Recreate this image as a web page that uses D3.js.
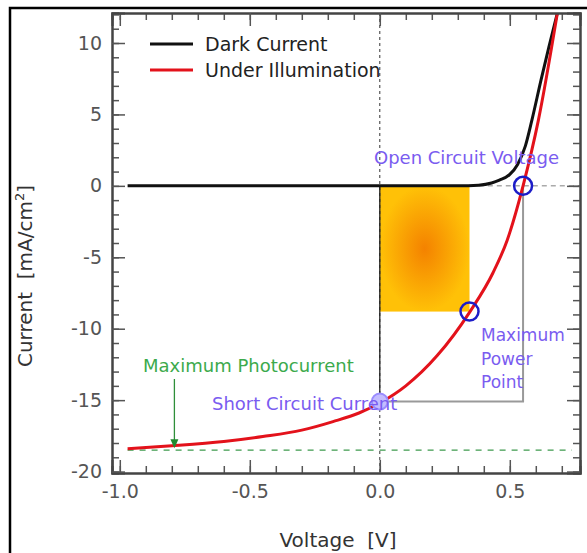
<!DOCTYPE html>
<html>
<head>
<meta charset="utf-8">
<script src="https://cdn.jsdelivr.net/npm/d3@7"></script>
<style>
	body { margin: 0; background: #fff; }
	text { font-family: "DejaVu Sans", Verdana, sans-serif; }
</style>
</head>
<body>
<svg></svg>
<script>
// voltage [V] / current [mA/cm2]
const darkV = [-0.97, 0.30, 0.38, 0.43, 0.46, 0.50, 0.53, 0.56, 0.585, 0.62, 0.65, 0.683];
const darkI = [0, 0, 0.05, 0.2, 0.4, 0.8, 1.5, 2.8, 4.6, 7.4, 9.7, 12.1];

const lightV = [-0.97, -0.8, -0.6, -0.45, -0.3, -0.18, -0.08, 0, 0.1, 0.22, 0.347, 0.435, 0.49, 0.551, 0.61, 0.683];
const lightI = [-18.4, -18.2, -17.9, -17.55, -17.1, -16.5, -15.9, -15.2, -14.0, -11.9, -8.8, -6.1, -3.8, 0, 4.6, 12.1];

const xMajor = [-1.0, -0.5, 0.0, 0.5];
const yMajor = [-20, -15, -10, -5, 0, 5, 10];

const voc = 0.551;
const isc = -15.1;
const vmp = 0.345;
const imp = -8.8;
const maxPhoto = -18.5;
const arrowV = -0.79;

const legendLabels = ["Dark Current", "Under Illumination"];
const legendColors = ["#111", "#e3121b"];

const W = 587, H = 553;
const margin = { top: 13, right: 7, bottom: 80, left: 112 };

function draw() {
	let svg = d3.select("svg")
		.attr("width", W)
		.attr("height", H);

	let x = d3.scaleLinear().domain([-1.03, 0.77]).range([margin.left, W - margin.right]);
	let y = d3.scaleLinear().domain([-20.1, 12.1]).range([H - margin.bottom, margin.top]);

	// outer frame
	svg.append("path")
		.attr("d", `M10,${H}V8H${W}`)
		.attr("fill", "none").attr("stroke", "#000").attr("stroke-width", 2.5);

	let defs = svg.append("defs");
	let grad = defs.append("radialGradient").attr("id", "pw");
	grad.append("stop").attr("offset", "0%").attr("stop-color", "#f48200");
	grad.append("stop").attr("offset", "100%").attr("stop-color", "#ffc107");
	defs.append("clipPath").attr("id", "clip")
		.append("rect")
		.attr("x", margin.left).attr("y", margin.top)
		.attr("width", W - margin.right - margin.left)
		.attr("height", H - margin.bottom - margin.top);

	// power rectangle
	svg.append("rect")
		.attr("x", x(0)).attr("y", y(0))
		.attr("width", x(vmp) - x(0)).attr("height", y(imp) - y(0))
		.attr("fill", "url(#pw)");

	// Voc x Isc box
	svg.append("path")
		.attr("d", `M${x(0)},${y(isc)}H${x(voc)}V${y(0)}`)
		.attr("fill", "none").attr("stroke", "#999").attr("stroke-width", 2);

	// zero lines
	svg.append("line")
		.attr("x1", x(0)).attr("x2", x(0))
		.attr("y1", margin.top).attr("y2", H - margin.bottom)
		.attr("stroke", "#333").attr("stroke-width", 1).attr("stroke-dasharray", "3,3");
	svg.append("line")
		.attr("x1", x(0)).attr("x2", x(0))
		.attr("y1", y(0)).attr("y2", y(isc))
		.attr("stroke", "#222").attr("stroke-width", 1.3);
	svg.append("line")
		.attr("x1", x(0)).attr("x2", W - margin.right)
		.attr("y1", y(0)).attr("y2", y(0))
		.attr("stroke", "#aaa").attr("stroke-width", 1.5).attr("stroke-dasharray", "5,4");

	// max photocurrent
	svg.append("line")
		.attr("x1", x(-0.97)).attr("x2", W - margin.right - 8)
		.attr("y1", y(maxPhoto)).attr("y2", y(maxPhoto))
		.attr("stroke", "#3e9a4e").attr("stroke-width", 1.3).attr("stroke-dasharray", "6,6");

	let line = d3.line()
		.x(d => x(d[0]))
		.y(d => y(d[1]))
		.curve(d3.curveMonotoneX);

	let plot = svg.append("g").attr("clip-path", "url(#clip)");
	plot.append("path")
		.datum(d3.zip(darkV, darkI))
		.attr("d", line)
		.attr("fill", "none").attr("stroke", legendColors[0]).attr("stroke-width", 3);
	plot.append("path")
		.datum(d3.zip(lightV, lightI))
		.attr("d", line)
		.attr("fill", "none").attr("stroke", legendColors[1]).attr("stroke-width", 3);

	// arrow
	svg.append("line")
		.attr("x1", x(arrowV)).attr("x2", x(arrowV))
		.attr("y1", 379).attr("y2", y(maxPhoto) - 6)
		.attr("stroke", "#2f8f3a").attr("stroke-width", 1.3);
	svg.append("path")
		.attr("d", `M${x(arrowV) - 4},${y(maxPhoto) - 11}H${x(arrowV) + 4}L${x(arrowV)},${y(maxPhoto) - 2}Z`)
		.attr("fill", "#1f8a2e");

	// circles
	svg.append("circle")
		.attr("cx", x(0)).attr("cy", y(isc)).attr("r", 8)
		.attr("fill", "#c4bcff").attr("stroke", "#9a8cff").attr("stroke-width", 2);
	[[voc, 0], [vmp, imp]].forEach(p => {
		svg.append("circle")
			.attr("cx", x(p[0])).attr("cy", y(p[1])).attr("r", 9)
			.attr("fill", "none").attr("stroke", "#1c1cc8").attr("stroke-width", 2.5);
	});

	// annotations
	let purple = "#7a5cf0";
	svg.append("text").attr("x", 374).attr("y", 164)
		.attr("fill", purple).attr("font-size", 18).text("Open Circuit Voltage");
	["Maximum", "Power", "Point"].forEach((t, i) => {
		svg.append("text").attr("x", 481).attr("y", 341 + i * 23.5)
			.attr("fill", purple).attr("font-size", 17).text(t);
	});
	svg.append("text").attr("x", 212).attr("y", 410)
		.attr("fill", purple).attr("font-size", 18).text("Short Circuit Current");
	svg.append("text").attr("x", 143).attr("y", 372)
		.attr("fill", "#3caa4c").attr("font-size", 18).text("Maximum Photocurrent");

	// legend
	legendLabels.forEach((t, i) => {
		let ly = 44 + i * 26;
		svg.append("line")
			.attr("x1", 150).attr("x2", 193).attr("y1", ly).attr("y2", ly)
			.attr("stroke", legendColors[i]).attr("stroke-width", 3);
		svg.append("text").attr("x", 205).attr("y", ly + 7)
			.attr("fill", "#222").attr("font-size", 19).text(t);
	});

	// axes, ticks pointing inward
	let xMinor = d3.range(-10, 8).map(d => d / 10);
	let yMinor = d3.range(-20, 13);
	let fmtX = d => d.toFixed(1);
	let fmtY = d => String(d);
	let bottom = H - margin.bottom, right = W - margin.right;

	let axes = [
		svg.append("g").attr("transform", `translate(0,${bottom})`)
			.call(d3.axisBottom(x).tickValues(xMinor).tickSize(-7).tickFormat("")),
		svg.append("g").attr("transform", `translate(0,${bottom})`)
			.call(d3.axisBottom(x).tickValues(xMajor).tickSize(-13).tickPadding(12).tickFormat(fmtX)),
		svg.append("g").attr("transform", `translate(0,${margin.top})`)
			.call(d3.axisTop(x).tickValues(xMinor).tickSize(-7).tickFormat("")),
		svg.append("g").attr("transform", `translate(0,${margin.top})`)
			.call(d3.axisTop(x).tickValues(xMajor).tickSize(-13).tickFormat("")),
		svg.append("g").attr("transform", `translate(${margin.left},0)`)
			.call(d3.axisLeft(y).tickValues(yMinor).tickSize(-7).tickFormat("")),
		svg.append("g").attr("transform", `translate(${margin.left},0)`)
			.call(d3.axisLeft(y).tickValues(yMajor).tickSize(-13).tickPadding(10).tickFormat(fmtY)),
		svg.append("g").attr("transform", `translate(${right},0)`)
			.call(d3.axisRight(y).tickValues(yMinor).tickSize(-7).tickFormat("")),
		svg.append("g").attr("transform", `translate(${right},0)`)
			.call(d3.axisRight(y).tickValues(yMajor).tickSize(-13).tickFormat(""))
	];
	axes.forEach(g => {
		g.select(".domain").attr("stroke", "#444").attr("stroke-width", 2);
		g.selectAll(".tick line").attr("stroke", "#555").attr("stroke-width", 1.5);
		g.selectAll(".tick text").attr("fill", "#555").attr("font-size", 19)
			.style("font-family", '"DejaVu Sans", sans-serif');
	});

	// axis titles
	svg.append("text")
		.attr("x", 338).attr("y", 547).attr("text-anchor", "middle")
		.attr("fill", "#333").attr("font-size", 20)
		.text("Voltage\u00a0\u00a0[V]");
	let yt = svg.append("text")
		.attr("transform", "translate(32,276) rotate(-90)")
		.attr("text-anchor", "middle")
		.attr("fill", "#333").attr("font-size", 20);
	yt.append("tspan").text("Current\u00a0\u00a0[mA/cm");
	yt.append("tspan").attr("font-size", 13).attr("dy", -8).text("2");
	yt.append("tspan").attr("dy", 8).text("]");
}

draw();
</script>
</body>
</html>
